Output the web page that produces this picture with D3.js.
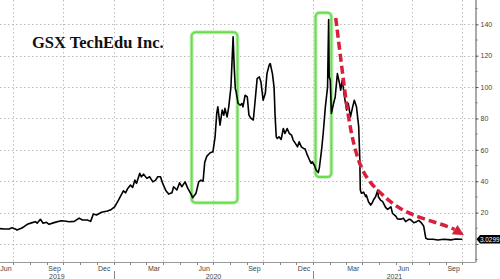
<!DOCTYPE html>
<html>
<head>
<meta charset="utf-8">
<script src="https://cdn.jsdelivr.net/npm/d3@7"></script>
<style>
  html, body { margin: 0; padding: 0; background: #fff; }
  svg { display: block; }
</style>
</head>
<body>
<div id="chart"></div>
<script>
// GSX TechEdu daily close
const priceDates = [
  "2019-06-07","2019-06-15","2019-06-24","2019-06-29","2019-07-05","2019-07-08","2019-07-16","2019-07-21","2019-07-27",
  "2019-08-05","2019-08-11","2019-08-14","2019-08-20","2019-08-25","2019-08-31","2019-09-05","2019-09-14","2019-09-27",
  "2019-10-03","2019-10-12","2019-10-21","2019-10-30","2019-11-05","2019-11-14","2019-11-20","2019-11-25","2019-12-01",
  "2019-12-10","2019-12-21","2019-12-28","2020-01-03","2020-01-10","2020-01-19","2020-01-23","2020-01-27","2020-02-01",
  "2020-02-05","2020-02-09","2020-02-12","2020-02-18","2020-02-21","2020-02-25","2020-03-02","2020-03-07","2020-03-13",
  "2020-03-18","2020-03-22","2020-03-27","2020-03-31","2020-04-06","2020-04-11","2020-04-17","2020-04-20","2020-04-26",
  "2020-05-01","2020-05-05","2020-05-11","2020-05-16","2020-05-22","2020-05-25","2020-05-31","2020-06-05","2020-06-09",
  "2020-06-13","2020-06-16","2020-06-20","2020-06-26","2020-07-01","2020-07-05","2020-07-08","2020-07-10","2020-07-14",
  "2020-07-18","2020-07-21","2020-07-23","2020-07-27","2020-07-30","2020-08-03","2020-08-07","2020-08-09","2020-08-11",
  "2020-08-12","2020-08-16","2020-08-20","2020-08-23","2020-08-25","2020-08-29","2020-09-02","2020-09-05","2020-09-09",
  "2020-09-13","2020-09-16","2020-09-20","2020-09-24","2020-09-27","2020-10-01","2020-10-05","2020-10-08","2020-10-12",
  "2020-10-14","2020-10-18","2020-10-21","2020-10-23","2020-10-25","2020-10-27","2020-10-30","2020-11-03","2020-11-07",
  "2020-11-10","2020-11-14","2020-11-18","2020-11-22","2020-11-25","2020-11-29","2020-12-03","2020-12-06","2020-12-10",
  "2020-12-14","2020-12-17","2020-12-21","2020-12-25","2020-12-28","2020-12-30","2021-01-03","2021-01-06","2021-01-10",
  "2021-01-12","2021-01-16","2021-01-19","2021-01-23","2021-01-27","2021-01-29","2021-01-30","2021-02-01","2021-02-03",
  "2021-02-07","2021-02-10","2021-02-14","2021-02-18","2021-02-20","2021-02-23","2021-02-27","2021-03-03","2021-03-06",
  "2021-03-10","2021-03-14","2021-03-17","2021-03-21","2021-03-25","2021-03-27","2021-03-28","2021-03-30","2021-04-03",
  "2021-04-07","2021-04-08","2021-04-12","2021-04-16","2021-04-19","2021-04-21","2021-04-25","2021-04-29","2021-04-30",
  "2021-05-04","2021-05-08","2021-05-13","2021-05-17","2021-05-23","2021-05-26","2021-06-01","2021-06-04","2021-06-10",
  "2021-06-15","2021-06-19","2021-06-25","2021-06-28","2021-07-04","2021-07-09","2021-07-13","2021-07-17","2021-07-22",
  "2021-07-26","2021-07-30","2021-08-08","2021-08-17","2021-08-28","2021-09-10","2021-09-19","2021-09-28","2021-10-01"
];
const prices = [
  9.8, 9.5, 9.5, 10.4, 9.6, 8.9, 10, 11, 12.5,
  13.6, 14.2, 13.2, 15.7, 13.2, 13.8, 12.5, 13.6, 14.8,
  14.6, 14.2, 14.4, 16.5, 15.3, 15.3, 14.4, 19.1, 18.5,
  20.2, 21, 22, 23.7, 28, 33.9, 32.6, 35.4, 37.5,
  36, 40.7, 38.6, 45, 42.8, 44.5, 41.8, 42.8, 39.6,
  40.7, 42.8, 42.8, 38.6, 33.9, 31.8, 32.6, 36.5, 34.4,
  39, 36.5, 39.6, 35.4, 31.8, 29.5, 32.3, 39.6, 40.7,
  40, 52, 56, 58.1, 58.7, 68.3, 83.2, 87.4, 75.7,
  85.3, 82.1, 86.4, 81, 87.4, 100, 132, 112.8, 99,
  98, 89.7, 88.4, 89.5, 87.4, 94.8, 93.7, 82.1, 80,
  79, 90, 105.4, 106.5, 103.3, 91.6, 96, 108.6, 114,
  115, 108.6, 100, 81, 68.3, 67.2, 68.3, 66.6, 73.6,
  70.4, 73.6, 70.4, 69.4, 66.2, 64.1, 61.9, 65.1, 61.9,
  60.9, 60.5, 56.6, 53.5, 51.4, 52.4, 50, 47.1, 45.5,
  48.5, 59.8, 70.4, 87.4, 100, 143, 106.5, 104.4, 83.2,
  89.5, 93.7, 108.6, 102.3, 98, 104.4, 93.7, 85.3, 89.5,
  81, 87.4, 91.6, 87.4, 75, 55, 34.4, 32.3, 33,
  30.1, 31.2, 26.9, 24.8, 26.3, 28, 30.1, 34.4, 30.1,
  28, 27, 23.5, 22, 23.7, 19.5, 17.8, 16, 15.8,
  16.4, 14.2, 15.7, 15.5, 13.5, 14.2, 15, 13.8, 11.5,
  3.6, 3, 3, 2.5, 3, 2.6, 3.2, 3, 3.03
];
const lastLabel = "3.0299";

// axis ticks
const yTicks = [0, 20, 40, 60, 80, 100, 120, 140];
const monthLabels = ["Jun", "Sep", "Dec", "Mar"];
const yearLabels = ["2019", "2020", "2021"];

// annotations (in date / price terms)
const boxStarts = ["2020-05-23", "2021-01-05"];
const boxEnds = ["2020-08-15", "2021-02-03"];
const boxTops = [135, 147.4];
const boxBottoms = [26.3, 42.6];
const arrowDates = ["2021-02-11", "2021-02-22", "2021-03-04", "2021-03-16", "2021-04-03", "2021-05-09", "2021-06-10", "2021-07-22", "2021-09-10", "2021-10-04"];
const arrowValues = [144, 113, 85, 62, 43, 30.5, 21.6, 16, 10.6, 5.5];

const W = 500, H = 279;
const plot = { left: 0, right: 475.5, top: 0, bottom: 262 };
const parse = d3.utcParse("%Y-%m-%d");

const x = d3.scaleUtc()
  .domain([parse("2019-06-07"), parse("2021-10-25")])
  .range([plot.left, plot.right]);
const y = d3.scaleLinear()
  .domain([-11.5, 155.5])
  .range([plot.bottom, plot.top]);

const svg = d3.select("#chart").append("svg")
  .attr("width", W)
  .attr("height", H)
  .style("font-family", "'Liberation Sans', Arial, sans-serif");

// horizontal grid
svg.append("g").selectAll("line")
  .data(yTicks)
  .join("line")
  .attr("x1", plot.left).attr("x2", plot.right)
  .attr("y1", d => Math.round(y(d)) + 0.5).attr("y2", d => Math.round(y(d)) + 0.5)
  .attr("stroke", "#bdbdbd")
  .attr("stroke-dasharray", "1.5,2.5");

// vertical grid on quarter starts
const quarterStarts = d3.utcMonth.range(parse("2019-07-01"), parse("2021-10-02"), 3);
svg.append("g").selectAll("line")
  .data(quarterStarts)
  .join("line")
  .attr("x1", d => Math.round(x(d)) + 0.5).attr("x2", d => Math.round(x(d)) + 0.5)
  .attr("y1", plot.top).attr("y2", plot.bottom)
  .attr("stroke", "#bdbdbd")
  .attr("stroke-dasharray", "1.5,2.5");

// title
svg.append("text")
  .attr("x", 32)
  .attr("y", 48)
  .attr("font-family", "'Liberation Serif', 'Times New Roman', serif")
  .attr("font-weight", "bold")
  .attr("font-size", "16.5px")
  .attr("fill", "#111")
  .text("GSX TechEdu Inc.");

// green highlight boxes
const boxes = boxStarts.map((s, i) => ({
  x0: x(parse(s)), x1: x(parse(boxEnds[i])), y0: y(boxTops[i]), y1: y(boxBottoms[i])
}));
const boxG = svg.append("g");
boxG.selectAll("rect.glow")
  .data(boxes)
  .join("rect")
  .attr("class", "glow")
  .attr("x", d => d.x0).attr("y", d => d.y0)
  .attr("width", d => d.x1 - d.x0).attr("height", d => d.y1 - d.y0)
  .attr("rx", 4)
  .attr("fill", "none")
  .attr("stroke", "#c9f2bf")
  .attr("stroke-width", 4);
boxG.selectAll("rect.box")
  .data(boxes)
  .join("rect")
  .attr("class", "box")
  .attr("x", d => d.x0).attr("y", d => d.y0)
  .attr("width", d => d.x1 - d.x0).attr("height", d => d.y1 - d.y0)
  .attr("rx", 4)
  .attr("fill", "none")
  .attr("stroke", "#6bdc50")
  .attr("stroke-width", 2);

// price line
const series = priceDates.map((d, i) => ({ date: parse(d), value: prices[i] }));
const line = d3.line()
  .x(d => x(d.date))
  .y(d => y(d.value));
svg.append("path")
  .datum(series)
  .attr("d", line)
  .attr("fill", "none")
  .attr("stroke", "#000")
  .attr("stroke-width", 1.6)
  .attr("stroke-linejoin", "round");

// red dashed arrow
const arrowPts = arrowDates.map((d, i) => [x(parse(d)), y(arrowValues[i])]);
const tip = arrowPts[arrowPts.length - 1];
const prev = arrowPts[arrowPts.length - 2];
const ang = Math.atan2(tip[1] - prev[1], tip[0] - prev[0]);
const headLen = 11, headW = 5.5;
const base = [tip[0] - headLen * Math.cos(ang), tip[1] - headLen * Math.sin(ang)];
const shaftPts = arrowPts.slice(0, -1).concat([base]);
svg.append("path")
  .datum(shaftPts)
  .attr("d", d3.line().curve(d3.curveBasis))
  .attr("fill", "none")
  .attr("stroke", "#d8203c")
  .attr("stroke-width", 3.5)
  .attr("stroke-dasharray", "8,4");
svg.append("path")
  .attr("d", `M${tip[0]},${tip[1]}` +
    `L${base[0] - headW * Math.sin(ang)},${base[1] + headW * Math.cos(ang)}` +
    `L${base[0] + headW * Math.sin(ang)},${base[1] - headW * Math.cos(ang)}Z`)
  .attr("fill", "#d8203c");

// right axis (zero label sits under the last-value tag)
const yAxis = d3.axisRight(y)
  .tickValues(yTicks)
  .tickSize(3)
  .tickPadding(2)
  .tickFormat(d => d === 0 ? "" : d3.format("d")(d));
const yAxisG = svg.append("g")
  .attr("transform", `translate(${plot.right},0)`)
  .call(yAxis);
yAxisG.select(".domain").attr("stroke", "#555").attr("d", `M0.5,${plot.top}V${plot.bottom}`);
yAxisG.selectAll(".tick line").attr("stroke", "#555");
yAxisG.selectAll(".tick text")
  .attr("font-size", "7px")
  .attr("font-family", "'Liberation Sans', Arial, sans-serif")
  .attr("fill", "#444");
// minor ticks
svg.append("g").selectAll("line")
  .data(d3.range(-10, 151, 10).filter(v => v % 20 !== 0))
  .join("line")
  .attr("x1", plot.right).attr("x2", plot.right + 2)
  .attr("y1", d => y(d)).attr("y2", d => y(d))
  .attr("stroke", "#777");

// bottom axis
svg.append("line")
  .attr("x1", plot.left).attr("x2", plot.right + 0.5)
  .attr("y1", plot.bottom + 0.5).attr("y2", plot.bottom + 0.5)
  .attr("stroke", "#999");
const monthStarts = d3.utcMonth.range(parse("2019-07-01"), parse("2021-10-25"));
svg.append("g").selectAll("line")
  .data(monthStarts)
  .join("line")
  .attr("x1", d => Math.round(x(d)) + 0.5).attr("x2", d => Math.round(x(d)) + 0.5)
  .attr("y1", plot.bottom).attr("y2", plot.bottom + 3)
  .attr("stroke", "#888");

// month labels centred in their month
const labelMonths = d3.utcMonth.range(parse("2019-06-01"), parse("2021-10-01"))
  .filter(d => monthLabels.includes(d3.utcFormat("%b")(d)));
svg.append("g").selectAll("text")
  .data(labelMonths)
  .join("text")
  .attr("x", d => Math.max(6, x(d3.utcDay.offset(d, 14))))
  .attr("y", 270.5)
  .attr("text-anchor", "middle")
  .attr("font-size", "7px")
  .attr("fill", "#444")
  .text(d => d3.utcFormat("%b")(d));

// year separators and labels
const yearStarts = [parse("2020-01-01"), parse("2021-01-01")];
svg.append("g").selectAll("line")
  .data(yearStarts)
  .join("line")
  .attr("x1", d => Math.round(x(d)) + 0.5).attr("x2", d => Math.round(x(d)) + 0.5)
  .attr("y1", 271).attr("y2", H)
  .attr("stroke", "#888");
const yearEdges = [plot.left].concat(yearStarts.map(x)).concat([plot.right]);
svg.append("g").selectAll("text")
  .data(yearLabels)
  .join("text")
  .attr("x", (d, i) => (yearEdges[i] + yearEdges[i + 1]) / 2)
  .attr("y", 278.5)
  .attr("text-anchor", "middle")
  .attr("font-size", "7px")
  .attr("fill", "#444")
  .text(d => d);

// last value tag
const lastY = y(prices[prices.length - 1]);
const tag = svg.append("g");
tag.append("path")
  .attr("d", `M${plot.right + 1},${lastY}L${plot.right + 4.5},${lastY - 4.2}H${W}V${lastY + 4.2}H${plot.right + 4.5}Z`)
  .attr("fill", "#000");
tag.append("text")
  .attr("x", plot.right + 4.5)
  .attr("y", lastY + 2.5)
  .attr("font-size", "7px")
  .attr("textLength", 19.5)
  .attr("lengthAdjust", "spacingAndGlyphs")
  .attr("fill", "#fff")
  .text(lastLabel);
</script>
</body>
</html>
